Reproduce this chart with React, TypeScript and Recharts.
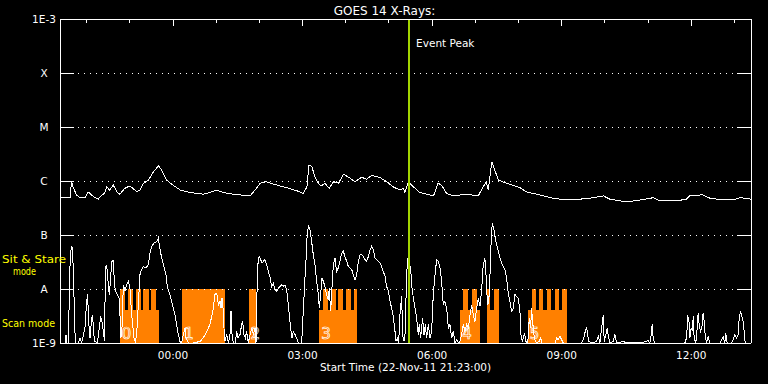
import React from "react";
import {
  ComposedChart,
  Line,
  XAxis,
  YAxis,
  ReferenceLine,
  ReferenceArea,
  ReferenceDot,
} from "recharts";

// GOES 14 X-ray flux, time axis in minutes after 22-Nov-11 21:23:00

const FONT = "'DejaVu Sans', sans-serif";
const ORANGE = "#ff8000";
const PEAK_COLOR = "#a2d400";

const hourTicks = [37, 97, 157, 217, 277, 337, 397, 457, 517, 577, 637, 697, 757, 817, 877, 937];
const labelTicks = [157, 337, 517, 697, 877];
const labelNames = ["00:00", "03:00", "06:00", "09:00", "12:00"];

const levelValues = [1e-9, 1e-8, 1e-7, 1e-6, 1e-5, 1e-4, 1e-3];
const levelNames = ["1E-9", "A", "B", "C", "M", "X", "1E-3"];
const gridLevels = [1e-8, 1e-7, 1e-6, 1e-5, 1e-4];

const eventPeak = 485;

// long channel (1-8 A), W/m^2
const longTime = [
  0, 14, 16, 18, 23, 28, 35, 39, 44, 49, 53, 58, 62, 65, 69, 74, 79, 83, 90, 97,
  107, 111, 116, 123, 130, 137, 141, 148, 157, 167, 181, 199, 208, 218, 227, 241,
  264, 271, 278, 287, 296, 315, 329, 338, 343, 346, 350, 354, 359, 363, 368, 374,
  380, 387, 394, 400, 410, 419, 426, 433, 444, 454, 463, 472, 477, 479, 484, 491,
  500, 509, 519, 525, 530, 537, 546, 565, 581, 588, 592, 595, 600, 604, 609, 620,
  639, 648, 667, 685, 704, 722, 741, 755, 764, 787, 806, 824, 833, 857, 870, 875,
  887, 891, 903, 921, 935, 945, 951, 960,
];
const longFlux = [
  4.9e-7, 4.9e-7, 1.0e-6, 7.8e-7, 5.5e-7, 4.9e-7, 4.9e-7, 6.3e-7, 5.5e-7, 4.9e-7,
  4.6e-7, 5.5e-7, 5.9e-7, 7.8e-7, 6.8e-7, 8.4e-7, 6.3e-7, 5.7e-7, 7.3e-7, 8.1e-7,
  6.3e-7, 6.8e-7, 9.1e-7, 1.04e-6, 1.49e-6, 1.92e-6, 1.6e-6, 1.04e-6, 8.4e-7, 6.8e-7,
  6.1e-7, 5.7e-7, 6.1e-7, 6.8e-7, 6.1e-7, 5.7e-7, 5.3e-7, 6.8e-7, 9.1e-7, 9.7e-7,
  8.8e-7, 7.5e-7, 6.6e-7, 5.9e-7, 7.8e-7, 1.98e-6, 1.84e-6, 1.2e-6, 9.1e-7, 8.1e-7,
  9.1e-7, 7.3e-7, 9.7e-7, 9.1e-7, 1.33e-6, 1.2e-6, 9.7e-7, 1.17e-6, 1.08e-6, 1.27e-6,
  1.17e-6, 9.7e-7, 7.8e-7, 6.8e-7, 7.3e-7, 6.1e-7, 9.7e-7, 7.8e-7, 6.1e-7, 5.7e-7,
  5.3e-7, 9.1e-7, 8.4e-7, 5.9e-7, 5.3e-7, 5.7e-7, 5.3e-7, 7.8e-7, 9.7e-7, 6.8e-7,
  2.28e-6, 1.6e-6, 1.04e-6, 9.1e-7, 7.5e-7, 6.3e-7, 5.5e-7, 4.8e-7, 4.45e-7, 4.6e-7,
  4.9e-7, 5.3e-7, 4.6e-7, 4.1e-7, 4.45e-7, 4.9e-7, 4.3e-7, 4.3e-7, 4.6e-7, 5.3e-7,
  5.3e-7, 5.7e-7, 4.8e-7, 4.45e-7, 4.45e-7, 4.9e-7, 4.8e-7, 4.6e-7,
];

// short channel (0.5-4 A), in units of 1e-9 W/m^2
const shortTime = [
  0, 7, 8.3, 9.7, 12, 13, 14.4, 15.7, 17.1, 18, 19, 19.9, 21.3, 25.5, 27.8, 30, 34.7, 37,
  38.4, 39.8, 41.7, 44, 45.4, 46.8, 48.6, 51.9, 54.6, 56.5, 58.3, 60.2, 62, 63, 64.8,
  67.1, 68.5, 70.4, 71.8, 74.1, 75.5, 76.9, 79.6, 82, 83.3, 84.7, 86.1, 88, 90.3, 92.6,
  94.9, 97.2, 98.6, 100.5, 102.8, 104.6, 106.5, 108.3, 111.1, 113.4, 115.8, 119.5,
  122.7, 125, 127.3, 130.6, 134.3, 136.6, 138, 141.2, 144.5, 147.2, 149.1, 150.9,
  152.8, 155.1, 157.4, 159.7, 162, 164.4, 166.7, 169, 171.3, 173.6, 175, 178.3, 185.2,
  194.5, 199.1, 203.8, 208.4, 213, 215.3, 217.7, 220, 222.3, 223.7, 225.1, 226.9,
  227.8, 229.2, 231.5, 233.9, 236.2, 237.6, 239, 240.8, 243.6, 245.4, 247.3, 250.1,
  252.4, 253.8, 255.6, 257.5, 259.3, 261.6, 264, 266.3, 268.6, 270.9, 272.3, 274.1,
  275.5, 276.9, 278.8, 280.6, 282.5, 284.8, 287.1, 289.4, 291.7, 294, 296.4, 298.7,
  301, 303.3, 305.6, 307.9, 310.3, 312.6, 314.9, 317.2, 318.6, 320.4, 322.3, 324.1,
  326.5, 328.8, 331.1, 335.7, 338, 340.3, 341.7, 343.6, 345.4, 347.3, 349.6, 351.9,
  354.2, 356.6, 358.9, 360.3, 362.1, 364, 365.8, 368.1, 370.4, 372.8, 374.1, 376,
  377.8, 379.7, 382, 384.3, 386.6, 389, 391.3, 393.6, 395.9, 398.3, 400.6, 402.9,
  405.2, 407.5, 409.8, 412.2, 414.5, 416.8, 419.1, 421.4, 423.7, 426, 428.4, 430.7,
  433, 435.3, 437.6, 439.9, 442.2, 444.6, 446.9, 449.2, 451.5, 453.8, 456.1, 458.5,
  460.8, 463.1, 465.4, 466.8, 468.6, 470.5, 472.3, 474.7, 476, 477.9, 479.3, 481.6,
  483, 485.3, 487.2, 488.5, 490.9, 493.2, 495.5, 497.8, 499.2, 501, 503.8, 505.7,
  507.5, 509.4, 511.7, 514, 516.3, 518.6, 521, 523.3, 525.6, 527.9, 530.2, 532.5,
  534.8, 537.2, 539.5, 541.8, 544.1, 546.4, 548.7, 551.1, 553.4, 555.7, 558, 560.3,
  562.6, 564.9, 567.3, 569.6, 571.9, 574.2, 576.5, 578.8, 581.1, 583.4, 585.7, 588,
  590.3, 591.7, 592.7, 594.5, 596.4, 598.2, 599.6, 601, 602.8, 604.7, 606.6, 608.9,
  611.2, 613.5, 615.8, 618.1, 620.4, 622.8, 625.1, 627.4, 629.7, 632, 634.3, 636.6,
  639, 640.3, 642.2, 643.6, 645.4, 647.3, 649.1, 650.5, 651.9, 653.8, 655.2, 656.6,
  658.4, 660.3, 662.1, 665.8, 667.7, 669.5, 687.6, 689.9, 692.2, 694.5, 696.8, 699.2,
  724.6, 727, 729.2, 731.6, 733, 734.8, 738.5, 745.5, 747.8, 750.1, 752.4, 754.7,
  756.1, 758.4, 760.3, 761.7, 764, 768.6, 770.9, 773.2, 782.4, 787.1, 803.3, 805.6,
  817.2, 819.5, 821.3, 822.7, 824.1, 826, 868.1, 870.4, 872.3, 873.6, 875, 876.9,
  878.7, 879.7, 881, 883.4, 885.2, 886.6, 888, 889.8, 891.7, 893.5, 894.9, 896.3,
  898.2, 900.5, 902.8, 916.7, 919.5, 921.3, 923.6, 925, 926.9, 932.9, 935.2, 937.5,
  939.9, 942.2, 943.6, 945.4, 947.3, 949.1, 951, 951.9, 960,
];
const shortFluxNano = [
  1.0, 1.0, 1.43, 1.0, 1.0, 13.9, 37.5, 62, 57, 32.5, 13.9, 3.9, 1.0, 1.0, 1.24, 1.0, 1.9, 5.9,
  7.9, 2.5, 1.24, 2.9, 3.3, 1.43, 1.07, 1.0, 1.9, 3.1, 2.5, 1.64, 1.07, 24.5, 28,
  12, 7.9, 16, 32.5, 33.5, 13.9, 9.1, 7.9, 6.8, 3.3, 1.24, 1.9, 12, 9.1, 12,
  13.9, 10.4, 5.1, 2.5, 1.24, 1.07, 1.43, 3.9, 18.4, 23, 26, 24.5,
  28, 46, 62, 71, 76, 88, 66, 37.5, 26, 18.4, 11.2, 9.1,
  7.9, 5.9, 4.4, 3.3, 2.2, 1.43, 1.07, 1.0, 1.43, 1.9, 1.24, 1.0, 1.0,
  1.07, 1.24, 1.64, 2.2, 4.4, 7.9, 8.4, 5.1, 5.9, 4.4, 6.8, 3.9,
  1.9, 1.07, 1.43, 1.0, 1.43, 3.9, 1.43, 1.0, 1.0, 1.64, 1.24, 1.43,
  2.2, 2.5, 1.43, 1.24, 1.64, 1.0, 1.43, 1.9, 1.43, 1.9, 1.0, 16,
  37.5, 40, 35, 30, 32.5, 35, 28, 21, 17.2, 11.2, 12.9, 9.7,
  9.1, 10.4, 11.2, 12, 11.2, 12, 9.7, 5.1, 3.3, 1.9, 1.24, 1.64,
  1.43, 1.24, 1.0, 1.0, 3.9, 16, 32.5, 117, 145, 126, 76, 43,
  28, 13.9, 7.9, 4.4, 7.9, 16, 13.9, 11.2, 7.9, 6.3, 10.4, 3.9,
  10.4, 28, 37.5, 21, 24.5, 32.5, 46, 50, 40, 32.5, 26, 24.5,
  23, 18.4, 14.9, 18.4, 32.5, 43, 43, 40, 35, 32.5, 40, 53,
  62, 53, 37.5, 35, 32.5, 30, 26, 21, 17.2, 11.2, 9.1, 5.9,
  4.4, 3.1, 1.64, 1.07, 1.24, 1.0, 3.3, 7.3, 1.43, 1.07, 1.43, 18.4,
  37.5, 28, 24.5, 12, 6.8, 4.4, 2.9, 1.43, 2.2, 1.24, 2.9, 1.43,
  2.2, 1.24, 2.2, 1.24, 1.64, 7.9, 18.4, 35, 32.5, 24.5, 13.9, 5.1,
  5.9, 4.4, 1.9, 2.2, 1.24, 1.64, 1.0, 1.15, 1.0, 1.07, 1.43, 2.2,
  1.64, 2.2, 1.9, 3.3, 5.1, 3.3, 2.5, 4.4, 6.8, 4.8, 9.1, 28,
  37.5, 21, 9.1, 5.1, 7.9, 37.5, 135, 155, 126, 88, 66, 50,
  37.5, 30, 26, 23, 16, 8.4, 5.9, 3.9, 4.4, 7.9, 7.3, 6.8,
  3.9, 1.43, 1.07, 1.24, 1.53, 1.07, 1.0, 1.24, 2.9, 1.9, 4.4, 2.5,
  1.43, 1.07, 1.0, 1.07, 1.24, 1.0, 1.0, 1.24, 1.15, 1.33, 1.15, 1.0,
  1.0, 1.15, 1.53, 2.0, 1.43, 1.07, 1.0, 1.07, 1.33, 1.0, 1.9, 3.25,
  1.07, 1.43, 1.9, 1.33, 1.0, 1.07, 1.43, 1.0, 1.07, 1.0, 1.04, 1.0,
  1.1, 1.0, 1.43, 2.2, 1.24, 1.0, 1.0, 1.24, 3.1, 2.9, 1.24, 1.9,
  1.64, 3.1, 1.24, 1.0, 1.9, 3.6, 2.2, 1.64, 1.9, 3.6, 2.5, 1.43,
  1.0, 1.33, 1.0, 1.0, 1.15, 1.33, 1.0, 1.53, 1.0, 1.0, 1.15, 1.43,
  1.24, 1.43, 2.9, 3.9, 3.1, 2.5, 1.43, 1.0, 1.0,
];

// observing mode (orange): scan mode reaches 4.1e-9, sit & stare reaches the A level
const scanLevel = 4.1e-9;
const stareLevel = 1e-8;
const scanStart = [83, 360, 556, 593, 650];
const scanEnd = [138, 413, 583, 610, 705];
const stareStart = [83, 95, 105, 116, 126, 170, 262, 365, 376, 386, 397, 408, 560, 572, 593, 603, 656, 666, 676, 688, 698];
const stareEnd = [90, 101, 112, 123, 133, 229, 272, 372, 383, 393, 404, 413, 567, 579, 598, 610, 661, 671, 682, 693, 705];
const pointingStart = [83, 170, 262, 360, 556, 650];
const pointingLabel = ["0", "1", "2", "3", "4", "5"];

const longData = longTime.map((t, i) => ({ t, flux: longFlux[i] }));
const shortData = shortTime.map((t, i) => ({ t, flux: shortFluxNano[i] * 1e-9 }));

function LeftTick(props: any) {
  const { x, y, index } = props;
  const edge = index === 0 || index === levelValues.length - 1;
  return (
    <g>
      {!edge && <line x1={x} x2={x + 14} y1={y} y2={y} stroke="#fff" />}
      <text x={x - 16} y={y + 4} textAnchor="middle" fill="#fff" fontSize={10.5} fontFamily={FONT}>
        {levelNames[index]}
      </text>
    </g>
  );
}

function RightTick(props: any) {
  const { x, y, index } = props;
  if (index === 0 || index === levelValues.length - 1) return <g />;
  return <line x1={x - 14} x2={x} y1={y} y2={y} stroke="#fff" />;
}

function TopTick(props: any) {
  const { x, y, payload } = props;
  const major = labelTicks.includes(payload.value);
  return <line x1={x} x2={x} y1={y} y2={y + (major ? 7 : 4)} stroke="#fff" />;
}

function BottomTick(props: any) {
  const { x, y, payload } = props;
  const i = labelTicks.indexOf(payload.value);
  return (
    <text x={x} y={y + 16} textAnchor="middle" fill="#fff" fontSize={10.5} fontFamily={FONT}>
      {labelNames[i]}
    </text>
  );
}

export default function App() {
  return (
    <div
      style={{
        position: "fixed",
        left: 0,
        top: 0,
        width: 768,
        height: 384,
        background: "#000",
        shapeRendering: "crispEdges",
      }}
    >
      <ComposedChart width={768} height={384} margin={{ top: 0, right: 0, bottom: 0, left: 0 }}>
        <XAxis
          xAxisId="bottom"
          dataKey="t"
          type="number"
          domain={[0, 960]}
          allowDataOverflow
          ticks={labelTicks}
          interval={0}
          height={41}
          tickSize={0}
          tickMargin={0}
          tick={<BottomTick />}
          stroke="#fff"
          label={{
            value: "Start Time (22-Nov-11 21:23:00)",
            position: "insideBottom",
            offset: 13,
            fill: "#fff",
            fontSize: 10.5,
            fontFamily: FONT,
          }}
        />
        <XAxis
          xAxisId="top"
          orientation="top"
          dataKey="t"
          type="number"
          domain={[0, 960]}
          allowDataOverflow
          ticks={hourTicks}
          interval={0}
          height={19}
          tickSize={0}
          tickMargin={0}
          tick={<TopTick />}
          stroke="#fff"
        />
        <YAxis
          yAxisId="left"
          scale="log"
          domain={[1e-9, 1e-3]}
          allowDataOverflow
          ticks={levelValues}
          interval={0}
          width={60}
          tickSize={0}
          tickMargin={0}
          tick={<LeftTick />}
          stroke="#fff"
        />
        <YAxis
          yAxisId="right"
          orientation="right"
          scale="log"
          domain={[1e-9, 1e-3]}
          allowDataOverflow
          ticks={levelValues}
          interval={0}
          width={17}
          tickSize={0}
          tickMargin={0}
          tick={<RightTick />}
          stroke="#fff"
        />

        {scanStart.map((s, i) => (
          <ReferenceArea
            key={"scan" + i}
            xAxisId="bottom"
            yAxisId="left"
            x1={s}
            x2={scanEnd[i]}
            y1={1e-9}
            y2={scanLevel}
            fill={ORANGE}
            fillOpacity={1}
            stroke="none"
          />
        ))}
        {stareStart.map((s, i) => (
          <ReferenceArea
            key={"stare" + i}
            xAxisId="bottom"
            yAxisId="left"
            x1={s}
            x2={stareEnd[i]}
            y1={1e-9}
            y2={stareLevel}
            fill={ORANGE}
            fillOpacity={1}
            stroke="none"
          />
        ))}
        {pointingStart.map((s, i) => (
          <ReferenceDot
            key={"pt" + i}
            xAxisId="bottom"
            yAxisId="left"
            x={s}
            y={1e-9}
            r={0}
            fill="none"
            stroke="none"
            label={(p: any) => (
              <text
                x={p.viewBox.x + 2}
                y={p.viewBox.y - 4}
                fill="none"
                stroke="#fff"
                strokeWidth={0.7}
                fontSize={15}
                fontFamily={FONT}
              >
                {pointingLabel[i]}
              </text>
            )}
          />
        ))}

        {gridLevels.map((v) => (
          <ReferenceLine
            key={"g" + v}
            xAxisId="bottom"
            yAxisId="left"
            y={v}
            stroke="#fff"
            strokeDasharray="1 5"
          />
        ))}

        <Line
          xAxisId="bottom"
          yAxisId="left"
          data={shortData}
          dataKey="flux"
          type="linear"
          stroke="#fff"
          strokeWidth={1}
          dot={false}
          isAnimationActive={false}
        />
        <Line
          xAxisId="bottom"
          yAxisId="left"
          data={longData}
          dataKey="flux"
          type="linear"
          stroke="#fff"
          strokeWidth={1}
          dot={false}
          isAnimationActive={false}
        />

        <ReferenceLine
          xAxisId="bottom"
          yAxisId="left"
          x={eventPeak}
          stroke={PEAK_COLOR}
          strokeWidth={2}
          label={(p: any) => (
            <text x={p.viewBox.x + 7} y={p.viewBox.y + 28} fill="#fff" fontSize={10.5} fontFamily={FONT}>
              Event Peak
            </text>
          )}
        />
      </ComposedChart>
      <svg width={768} height={384} style={{ position: "absolute", left: 0, top: 0, pointerEvents: "none" }}>
        <text x={384.5} y={15} textAnchor="middle" fill="#fff" fontSize={12} fontFamily={FONT}>
          GOES 14 X-Rays:
        </text>
        <text x={2} y={263} fill="#ffff00" fontSize={11} fontFamily={FONT} textLength={64} lengthAdjust="spacingAndGlyphs">
          Sit &amp; Stare
        </text>
        <text x={13} y={275} fill="#ffff00" fontSize={11} fontFamily={FONT} textLength={23} lengthAdjust="spacingAndGlyphs">
          mode
        </text>
        <text x={2} y={327} fill="#ffff00" fontSize={11} fontFamily={FONT} textLength={53} lengthAdjust="spacingAndGlyphs">
          Scan mode
        </text>
      </svg>
    </div>
  );
}
